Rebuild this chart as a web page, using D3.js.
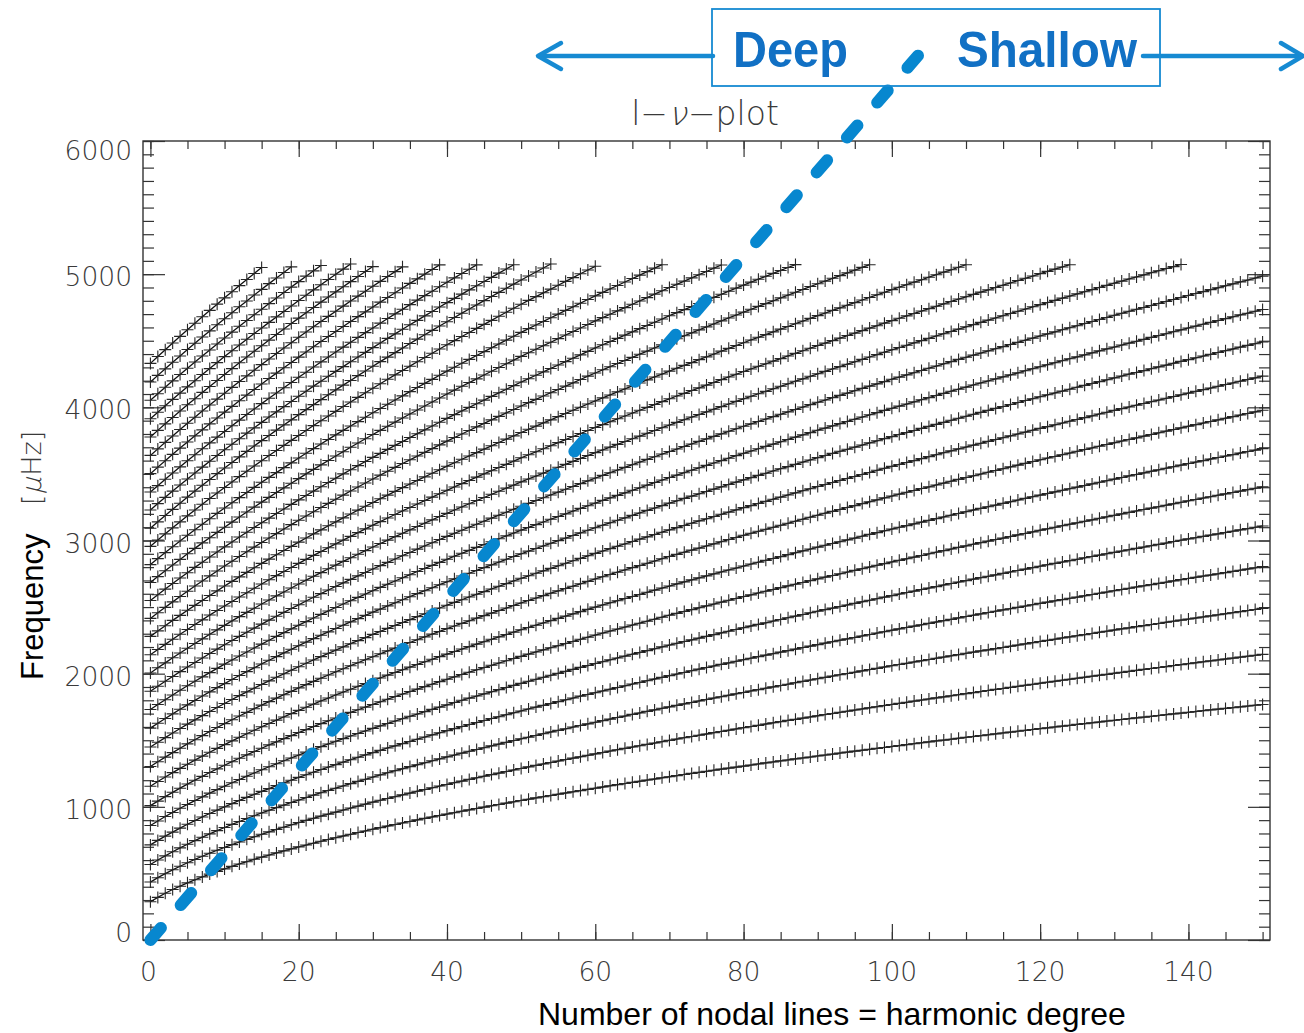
<!DOCTYPE html>
<html>
<head>
<meta charset="utf-8">
<script src="https://cdn.jsdelivr.net/npm/d3@7"></script>
<style>
  html, body { margin: 0; padding: 0; background: #ffffff; }
  svg { display: block; }
</style>
</head>
<body>
<svg id="chart" width="1304" height="1033"></svg>
<script>
// Tick values of the two axes
const degreeTicks = [0, 20, 40, 60, 80, 100, 120, 140];
const degreeMinor = d3.range(0, 151, 5);
const freqTicks = [0, 1000, 2000, 3000, 4000, 5000, 6000];
const freqMinor = d3.range(0, 6001, 100);

// Mode frequencies in μHz, one list per radial order n, indexed by degree l = 0, 1, 2, ...
const ridge01 = [287,320,351,379,404,429,452,474,495,515,534,553,571,588,606,622,638,654,669,684,699,
  713,727,741,755,768,781,794,807,819,832,844,856,867,879,890,902,913,924,935,946,
  956,967,977,988,998,1008,1018,1028,1038,1048,1057,1067,1076,1085,1095,1104,1113,1122,1131,1140,
  1149,1158,1167,1175,1184,1192,1201,1209,1218,1226,1234,1243,1251,1259,1267,1275,1283,1291,1298,1306,
  1314,1322,1330,1337,1345,1352,1360,1367,1374,1382,1389,1396,1404,1411,1418,1425,1432,1439,1446,1453,
  1460,1467,1474,1481,1488,1495,1501,1508,1515,1522,1528,1535,1541,1548,1555,1561,1568,1574,1581,1587,
  1593,1600,1606,1612,1619,1625,1631,1637,1644,1650,1656,1662,1668,1674,1680,1686,1692,1698,1704,1710,
  1716,1722,1728,1734,1739,1745,1751,1757,1763,1768];
const ridge02 = [435,468,498,527,554,580,605,629,652,674,695,
  716,736,756,775,794,812,830,847,865,882,898,914,930,945,960,976,991,1005,1020,1035,
  1049,1063,1076,1090,1103,1117,1130,1143,1156,1168,1181,1193,1206,1218,1230,1242,1253,1265,1277,1288,
  1300,1311,1322,1333,1344,1355,1366,1376,1387,1398,1408,1419,1429,1439,1449,1459,1469,1479,1489,1499,
  1509,1519,1528,1538,1547,1557,1566,1575,1585,1594,1603,1612,1622,1631,1640,1649,1657,1666,1675,1684,
  1693,1701,1710,1718,1727,1735,1744,1752,1761,1769,1777,1785,1794,1802,1810,1818,1826,1834,1842,1850,
  1858,1866,1874,1882,1889,1897,1905,1913,1920,1928,1936,1943,1951,1958,1966,1973,1981,1988,1995,2003,
  2010,2017,2025,2032,2039,2046,2053,2061,2068,2075,2082,2089,2096,2103,2110,2117,2124,2131,2138,2145];
const ridge03 = [567,601,632,663,692,719,746,772,797,821,845,
  868,890,912,933,954,974,994,1013,1033,1051,1070,1088,1106,1123,1140,1157,1174,1191,1207,1224,
  1240,1256,1271,1286,1302,1316,1331,1346,1360,1375,1389,1403,1417,1430,1444,1458,1471,1484,1498,1511,
  1523,1536,1549,1562,1574,1586,1599,1611,1623,1635,1647,1659,1671,1682,1694,1705,1717,1728,1740,1751,
  1762,1773,1784,1795,1806,1817,1827,1838,1849,1859,1870,1880,1891,1901,1911,1921,1932,1942,1952,1962,
  1972,1982,1992,2001,2011,2021,2031,2040,2050,2060,2069,2078,2088,2097,2106,2116,2125,2134,2143,2153,
  2162,2171,2179,2188,2197,2206,2215,2224,2233,2242,2250,2259,2268,2276,2285,2293,2302,2311,2319,2328,
  2336,2344,2353,2361,2369,2377,2386,2394,2402,2410,2418,2426,2434,2442,2450,2458,2466,2474,2482,2490];
const ridge04 = [714,748,780,810,840,869,897,924,950,975,1000,
  1024,1048,1071,1094,1116,1137,1159,1180,1200,1221,1241,1260,1280,1299,1317,1336,1354,1372,1390,1407,
  1424,1442,1458,1475,1491,1508,1524,1540,1556,1572,1587,1603,1618,1633,1648,1663,1677,1692,1706,1720,
  1735,1749,1762,1776,1790,1804,1817,1831,1844,1857,1870,1883,1896,1909,1922,1934,1947,1960,1972,1985,
  1997,2009,2022,2034,2046,2058,2070,2081,2093,2105,2116,2128,2139,2150,2162,2173,2184,2196,2207,2218,
  2229,2240,2251,2261,2272,2283,2294,2305,2315,2326,2336,2347,2357,2367,2378,2388,2398,2408,2419,2429,
  2439,2449,2459,2469,2479,2488,2498,2508,2518,2528,2537,2547,2556,2566,2575,2585,2594,2604,2613,2623,
  2632,2641,2651,2660,2669,2678,2687,2697,2706,2715,2724,2733,2741,2750,2759,2768,2777,2786,2795,2804];
const ridge05 = [860,894,927,958,989,1018,1047,1075,1103,1129,1155,
  1181,1205,1230,1254,1278,1301,1323,1346,1367,1389,1411,1432,1452,1472,1492,1512,1532,1551,1570,1589,
  1608,1626,1644,1662,1680,1697,1715,1732,1749,1766,1783,1800,1816,1832,1848,1864,1880,1896,1912,1927,
  1943,1958,1973,1988,2002,2017,2032,2047,2061,2076,2090,2104,2118,2132,2146,2159,2173,2187,2201,2215,
  2228,2241,2254,2267,2280,2293,2306,2319,2332,2345,2358,2370,2382,2395,2407,2420,2432,2444,2457,2469,
  2481,2492,2504,2516,2528,2540,2551,2563,2575,2586,2598,2609,2620,2632,2643,2654,2666,2677,2688,2699,
  2710,2721,2731,2742,2753,2764,2775,2785,2796,2807,2818,2828,2838,2849,2859,2870,2880,2890,2901,2911,
  2921,2931,2941,2951,2961,2971,2981,2992,3002,3012,3021,3031,3041,3050,3060,3070,3080,3089,3099,3109];
const ridge06 = [1009,1043,1077,1109,1140,1171,1200,1229,1258,1285,1312,
  1339,1365,1390,1415,1440,1465,1488,1512,1535,1558,1580,1603,1625,1646,1667,1688,1709,1729,1749,1769,
  1789,1808,1828,1847,1866,1884,1903,1921,1940,1958,1976,1994,2011,2029,2046,2063,2080,2097,2114,2130,
  2147,2163,2179,2195,2210,2226,2242,2258,2274,2290,2305,2320,2335,2350,2365,2379,2394,2409,2424,2439,
  2453,2467,2481,2495,2509,2523,2537,2551,2565,2579,2592,2606,2619,2632,2646,2659,2672,2685,2699,2712,
  2725,2737,2750,2763,2776,2788,2801,2814,2826,2839,2851,2863,2875,2887,2900,2912,2924,2936,2948,2960,
  2972,2984,2995,3007,3018,3030,3042,3053,3065,3077,3088,3099,3111,3122,3133,3144,3155,3167,3178,3189,
  3200,3211,3222,3233,3243,3254,3265,3276,3287,3298,3308,3319,3329,3340,3350,3361,3371,3382,3392,3403];
const ridge07 = [1155,1190,1224,1257,1289,1320,1351,1381,1410,1439,1467,
  1495,1522,1549,1575,1601,1626,1651,1675,1700,1724,1748,1771,1795,1817,1840,1862,1883,1905,1926,1947,
  1968,1989,2009,2029,2049,2069,2089,2108,2128,2147,2166,2185,2203,2222,2240,2258,2276,2294,2312,2330,
  2347,2364,2381,2398,2415,2432,2449,2466,2483,2500,2516,2532,2548,2564,2579,2595,2611,2627,2643,2658,
  2674,2689,2704,2719,2734,2749,2764,2779,2793,2808,2823,2837,2851,2865,2879,2894,2908,2922,2936,2950,
  2964,2978,2991,3005,3018,3032,3046,3059,3073,3086,3099,3112,3125,3138,3151,3164,3177,3190,3203,3216,
  3229,3241,3254,3266,3279,3291,3304,3316,3329,3341,3353,3365,3377,3389,3401,3413,3425,3437,3449,3461,
  3473,3485,3496,3508,3520,3531,3543,3554,3566,3578,3589,3600,3612,3623,3634,3645,3657,3668,3679,3690];
const ridge08 = [1303,1339,1373,1407,1440,1473,1504,1535,1566,1596,1625,
  1654,1682,1709,1737,1764,1790,1816,1842,1867,1893,1918,1942,1966,1990,2014,2037,2060,2082,2105,2127,
  2149,2171,2192,2213,2234,2255,2276,2297,2317,2338,2358,2378,2397,2417,2436,2455,2474,2493,2512,2531,
  2550,2568,2586,2604,2622,2640,2657,2675,2693,2711,2728,2745,2762,2779,2796,2812,2829,2846,2863,2880,
  2896,2912,2928,2943,2959,2975,2991,3007,3023,3039,3054,3069,3084,3099,3114,3129,3145,3160,3175,3190,
  3205,3219,3233,3248,3262,3277,3291,3305,3320,3334,3348,3362,3376,3390,3403,3417,3431,3445,3459,3473,
  3486,3499,3513,3526,3539,3553,3566,3579,3593,3606,3619,3631,3644,3657,3670,3683,3695,3708,3721,3734,
  3747,3759,3771,3784,3796,3809,3821,3833,3846,3858,3870,3882,3894,3906,3918,3930,3942,3954,3966,3978];
const ridge09 = [1449,1485,1520,1554,1588,1621,1653,1685,1716,1746,1776,
  1806,1835,1863,1891,1919,1946,1973,1999,2026,2052,2078,2103,2128,2153,2177,2201,2225,2248,2271,2295,
  2317,2340,2362,2384,2406,2428,2450,2471,2493,2514,2535,2555,2576,2596,2616,2636,2656,2676,2696,2716,
  2735,2754,2772,2791,2810,2829,2848,2866,2885,2903,2921,2939,2957,2974,2992,3010,3027,3045,3062,3080,
  3097,3113,3130,3147,3163,3180,3197,3213,3230,3247,3262,3278,3294,3310,3326,3342,3358,3374,3389,3405,
  3420,3436,3451,3466,3481,3496,3511,3527,3542,3557,3571,3586,3600,3615,3630,3644,3659,3673,3688,3702,
  3716,3730,3744,3758,3772,3786,3800,3814,3828,3842,3855,3869,3882,3896,3909,3923,3936,3950,3963,3977,
  3990,4003,4016,4029,4042,4055,4068,4081,4094,4107,4120,4133,4145,4158,4171,4183,4196,4209,4221,4234];
const ridge10 = [1591,1628,1663,1698,1733,1766,1799,1832,1863,1895,1925,
  1956,1986,2015,2044,2073,2101,2128,2156,2183,2210,2237,2263,2289,2314,2339,2364,2389,2413,2438,2462,
  2485,2509,2532,2555,2578,2601,2623,2645,2668,2690,2712,2733,2754,2775,2796,2817,2838,2859,2880,2900,
  2920,2940,2959,2979,2999,3018,3038,3057,3077,3096,3115,3133,3152,3170,3189,3207,3226,3244,3262,3281,
  3298,3316,3333,3351,3368,3386,3403,3421,3438,3455,3472,3489,3505,3522,3539,3555,3572,3589,3605,3622,
  3638,3654,3670,3685,3701,3717,3733,3749,3765,3780,3796,3811,3826,3842,3857,3872,3887,3903,3918,3933,
  3948,3962,3977,3992,4006,4021,4036,4051,4065,4080,4094,4108,4122,4136,4151,4165,4179,4193,4207,4221,
  4235,4249,4262,4276,4290,4304,4317,4331,4345,4358,4372,4385,4398,4412,4425,4438,4452,4465,4478,4491];
const ridge11 = [1731,1768,1804,1840,1875,1909,1943,1976,2008,2040,2072,
  2103,2133,2163,2193,2222,2251,2280,2308,2336,2364,2391,2418,2445,2471,2497,2523,2548,2573,2598,2623,
  2648,2672,2696,2720,2743,2767,2790,2813,2836,2859,2882,2904,2926,2948,2970,2991,3013,3035,3056,3078,
  3098,3119,3139,3160,3180,3200,3221,3241,3261,3281,3301,3320,3339,3358,3377,3396,3416,3435,3454,3473,
  3491,3509,3528,3546,3564,3582,3600,3618,3637,3655,3672,3689,3707,3724,3741,3759,3776,3793,3810,3828,
  3844,3861,3878,3894,3911,3927,3944,3960,3977,3993,4009,4025,4041,4057,4073,4089,4105,4121,4136,4152,
  4168,4183,4198,4214,4229,4244,4259,4275,4290,4305,4320,4335,4350,4365,4379,4394,4409,4424,4439,4453,
  4468,4482,4496,4510,4525,4539,4553,4568,4582,4596,4610,4624,4638,4652,4666,4680,4694,4707,4721,4735];
const ridge12 = [1868,1906,1943,1979,2015,2050,2084,2118,2151,2184,2217,
  2249,2280,2311,2342,2372,2402,2431,2460,2489,2517,2546,2574,2601,2628,2655,2682,2708,2734,2760,2786,
  2811,2836,2861,2886,2910,2935,2959,2983,3007,3031,3054,3077,3100,3122,3145,3168,3190,3212,3235,3257,
  3279,3300,3321,3342,3363,3385,3406,3427,3448,3469,3489,3509,3529,3549,3569,3589,3609,3629,3649,3668,
  3687,3706,3725,3744,3763,3782,3801,3820,3839,3858,3876,3894,3912,3930,3948,3966,3984,4002,4020,4038,
  4055,4073,4090,4107,4125,4142,4159,4176,4193,4211,4227,4244,4260,4277,4294,4310,4327,4343,4360,4376,
  4392,4408,4424,4440,4456,4472,4488,4504,4520,4536,4552,4567,4583,4598,4613,4629,4644,4660,4675,4691,
  4706,4721,4736,4750,4765,4780,4795,4810,4825,4840,4855,4869,4884,4898,4913,4927,4942,4956,4971,4985];
const ridge13 = [2005,2044,2081,2119,2155,2191,2227,2261,2296,2329,2363,
  2396,2428,2460,2491,2523,2553,2584,2613,2643,2673,2702,2731,2759,2788,2815,2843,2870,2897,2924,2951,
  2977,3003,3029,3054,3080,3105,3130,3155,3180,3204,3229,3252,3276,3300,3323,3347,3370,3393,3416,3440,
  3462,3484,3506,3528,3550,3572,3594,3616,3638,3660,3680,3701,3722,3743,3764,3784,3805,3826,3847,3867,
  3887,3907,3927,3946,3966,3986,4005,4025,4045,4064,4083,4102,4120,4139,4158,4177,4196,4214,4233,4252,
  4270,4288,4306,4324,4342,4360,4378,4396,4414,4432,4449,4466,4484,4501,4518,4536,4553,4570,4587,4605,
  4621,4638,4655,4671,4688,4705,4721,4738,4755,4771,4787,4803,4820,4836,4852,4868,4884,4900,4916,4932,
  4948,4964,4979,4995,5011,5026,5042,5057,5073];
const ridge14 = [2142,2181,2220,2258,2296,2332,2369,2404,2440,2474,2508,
  2542,2576,2608,2641,2673,2705,2736,2767,2797,2828,2858,2888,2917,2946,2975,3003,3031,3059,3087,3115,
  3142,3169,3195,3222,3248,3274,3300,3326,3351,3377,3402,3427,3451,3476,3500,3524,3548,3572,3596,3621,
  3644,3666,3689,3712,3735,3758,3781,3803,3826,3849,3870,3892,3914,3935,3957,3978,4000,4021,4043,4064,
  4085,4105,4126,4146,4167,4187,4208,4228,4248,4269,4288,4308,4327,4347,4366,4386,4405,4425,4444,4464,
  4482,4501,4520,4539,4557,4576,4595,4613,4632,4651,4669,4687,4705,4723,4741,4759,4777,4795,4813,4830,
  4848,4865,4882,4900,4917,4934,4952,4969,4986,5004,5021,5038,5054,5071];
const ridge15 = [2280,2321,2360,2400,2438,2476,2513,2550,2587,2622,2658,
  2693,2727,2761,2795,2828,2860,2893,2925,2956,2988,3019,3050,3080,3111,3140,3170,3199,3228,3257,3285,
  3314,3341,3369,3397,3424,3451,3478,3505,3531,3558,3584,3610,3635,3660,3686,3711,3736,3761,3786,3811,
  3835,3859,3883,3906,3930,3954,3978,4001,4025,4048,4071,4093,4116,4138,4161,4183,4206,4228,4250,4272,
  4294,4315,4336,4358,4379,4400,4422,4443,4464,4485,4506,4526,4546,4567,4587,4607,4628,4648,4668,4689,
  4708,4728,4747,4767,4786,4806,4825,4845,4864,4884,4902,4921,4940,4958,4977,4996,5015,5033,5052,5071];
const ridge16 = [2415,2457,2498,2539,2579,2619,2658,2696,2734,2771,2808,
  2844,2880,2915,2950,2985,3019,3052,3086,3119,3152,3184,3216,3248,3279,3310,3341,3372,3402,3432,3462,
  3491,3520,3549,3578,3606,3634,3662,3690,3718,3746,3773,3800,3826,3853,3879,3906,3932,3958,3984,4010,
  4035,4060,4085,4110,4134,4159,4184,4209,4234,4258,4282,4305,4329,4352,4375,4399,4422,4446,4469,4493,
  4515,4537,4559,4582,4604,4626,4649,4671,4693,4715,4736,4758,4779,4800,4822,4843,4864,4885,4907,4928,
  4948,4969,4989,5010,5030,5051,5071];
const ridge17 = [2550,2593,2635,2677,2718,2758,2798,2837,2876,2914,2952,
  2989,3026,3062,3098,3133,3168,3203,3237,3271,3305,3338,3371,3404,3436,3468,3500,3531,3562,3593,3624,
  3654,3684,3714,3743,3773,3802,3831,3860,3888,3917,3945,3973,4000,4027,4054,4082,4109,4136,4163,4190,
  4215,4241,4266,4292,4318,4343,4369,4394,4420,4446,4470,4494,4518,4542,4567,4591,4615,4639,4663,4688,
  4711,4734,4757,4780,4803,4826,4849,4872,4895,4918,4940,4962,4984,5006,5028,5050,5072];
const ridge18 = [2685,2729,2773,2816,2858,2900,2941,2982,3021,3061,3100,
  3138,3176,3214,3251,3288,3324,3360,3395,3430,3465,3500,3534,3568,3601,3635,3667,3700,3732,3764,3796,
  3827,3858,3889,3920,3950,3980,4010,4040,4070,4100,4129,4158,4186,4214,4243,4271,4299,4327,4355,4383,
  4410,4436,4463,4489,4516,4543,4569,4596,4622,4649,4674,4699,4724,4749,4774,4799,4824,4850,4875,4900,
  4924,4948,4972,4996,5020,5045,5069];
const ridge19 = [2819,2864,2909,2953,2996,3039,3081,3122,3163,3204,3244,
  3283,3322,3361,3399,3437,3474,3510,3547,3583,3619,3655,3690,3725,3759,3793,3827,3860,3893,3926,3959,
  3991,4023,4055,4086,4118,4149,4180,4210,4241,4272,4301,4331,4360,4389,4418,4447,4476,4505,4534,4563,
  4591,4618,4645,4673,4700,4728,4755,4782,4810,4837,4863,4889,4915,4941,4967,4993,5019,5045,5071];
const ridge20 = [2956,3003,3050,3095,3140,3185,3229,3272,3315,3357,3398,
  3439,3480,3520,3560,3599,3638,3676,3714,3752,3789,3826,3863,3899,3935,3970,4006,4040,4075,4109,4143,
  4177,4211,4244,4277,4309,4342,4374,4406,4438,4470,4501,4532,4562,4593,4623,4653,4684,4714,4744,4774,
  4803,4831,4860,4888,4917,4946,4974,5003,5031,5059];
const ridge21 = [3092,3140,3188,3234,3280,3326,3371,3415,3458,3502,3544,
  3586,3628,3669,3710,3750,3789,3829,3868,3906,3945,3983,4020,4058,4094,4131,4167,4202,4238,4273,4308,
  4343,4377,4411,4445,4479,4512,4545,4578,4611,4643,4675,4707,4738,4769,4801,4832,4863,4894,4925,4956,
  4986,5016,5046,5076];
const ridge22 = [3229,3277,3324,3371,3417,3462,3507,3551,3595,3638,3681,
  3723,3764,3806,3846,3887,3927,3966,4005,4044,4083,4121,4159,4196,4233,4270,4306,4342,4378,4413,4448,
  4483,4518,4552,4586,4620,4653,4687,4720,4753,4786,4818,4850,4882,4913,4945,4976,5008,5039,5071];
const ridge23 = [3364,3412,3460,3507,3553,3599,3644,3689,3733,3776,3819,
  3862,3904,3946,3987,4028,4068,4108,4147,4187,4226,4264,4303,4341,4378,4415,4452,4489,4525,4561,4596,
  4632,4667,4702,4736,4771,4805,4839,4872,4906,4939,4972,5005,5037,5070];
const ridge24 = [3502,3551,3599,3647,3694,3740,3786,3831,3876,3920,3964,
  4007,4050,4092,4134,4175,4216,4257,4297,4337,4377,4416,4455,4494,4532,4570,4607,4644,4681,4717,4754,
  4790,4825,4861,4896,4931,4965,5000,5035,5070];
const ridge25 = [3639,3688,3737,3785,3833,3880,3926,3972,4017,4062,4106,
  4150,4194,4236,4279,4321,4363,4404,4445,4485,4526,4566,4605,4645,4683,4722,4760,4798,4835,4872,4909,
  4946,4982,5019,5055];
const ridge26 = [3777,3827,3876,3924,3972,4019,4065,4112,4157,4202,4247,
  4291,4335,4378,4421,4463,4505,4547,4588,4629,4670,4710,4750,4790,4829,4867,4906,4944,4982,5020,5057];
const ridge27 = [3914,3963,4012,4060,4107,4154,4200,4246,4291,4336,4381,
  4425,4468,4511,4554,4596,4638,4679,4720,4761,4802,4842,4882,4921,4960,4999,5038,5076];
const ridge28 = [4053,4102,4151,4199,4246,4293,4340,4386,4431,4476,4521,
  4565,4609,4652,4695,4737,4779,4821,4862,4903,4944,4985,5025,5065];
const ridge29 = [4190,4240,4289,4338,4386,4434,4481,4528,4574,4620,4665,
  4710,4755,4799,4843,4886,4929,4971,5013,5055];
const ridge30 = [4330,4382,4433,4483,4533,4583,4631,4680,4728,4775,4822,4868,4914,4960,5005,5050];

const ridges = [ridge01, ridge02, ridge03, ridge04, ridge05, ridge06, ridge07, ridge08, ridge09, ridge10,
  ridge11, ridge12, ridge13, ridge14, ridge15, ridge16, ridge17, ridge18, ridge19, ridge20,
  ridge21, ridge22, ridge23, ridge24, ridge25, ridge26, ridge27, ridge28, ridge29, ridge30];

// Dividing line between deep and shallow modes: two ends in (l, μHz)
const dividerDegree = [0, 103.6];
const dividerFreq = [0, 6646];

const svg = d3.select("#chart");
const x = d3.scaleLinear().domain([-1, 151]).range([143, 1270]);
const y = d3.scaleLinear().domain([0, 6000]).range([940, 141]);

const axisColor = "#333";
const labelFont = "'DejaVu Sans', sans-serif";
const sansFont = "'Liberation Sans', Arial, sans-serif";

// Frame and ticks (ticks point inward on all four sides)
const frame = svg.append("g");
frame.append("rect")
  .attr("x", x.range()[0]).attr("y", y.range()[1])
  .attr("width", x.range()[1] - x.range()[0])
  .attr("height", y.range()[0] - y.range()[1])
  .attr("fill", "none").attr("stroke", axisColor).attr("stroke-width", 1.4);

function tickGroup(axis, transform) {
  const g = frame.append("g").attr("transform", transform).call(axis);
  g.select(".domain").remove();
  g.selectAll(".tick line").attr("stroke", axisColor).attr("stroke-width", 1.2);
  g.selectAll("text").remove();
  return g;
}
tickGroup(d3.axisBottom(x).tickValues(degreeMinor).tickSize(-8), `translate(0,${y.range()[0]})`);
tickGroup(d3.axisBottom(x).tickValues(degreeTicks).tickSize(-16), `translate(0,${y.range()[0]})`);
tickGroup(d3.axisTop(x).tickValues(degreeMinor).tickSize(-8), `translate(0,${y.range()[1]})`);
tickGroup(d3.axisTop(x).tickValues(degreeTicks).tickSize(-16), `translate(0,${y.range()[1]})`);
tickGroup(d3.axisLeft(y).tickValues(freqMinor).tickSize(-11), `translate(${x.range()[0]},0)`);
tickGroup(d3.axisLeft(y).tickValues(freqTicks).tickSize(-22), `translate(${x.range()[0]},0)`);
tickGroup(d3.axisRight(y).tickValues(freqMinor).tickSize(-11), `translate(${x.range()[1]},0)`);
tickGroup(d3.axisRight(y).tickValues(freqTicks).tickSize(-22), `translate(${x.range()[1]},0)`);

// Tick labels
svg.append("g").selectAll("text").data(degreeTicks).join("text")
  .attr("x", d => x(d) - (d === 0 ? 2 : 0))
  .attr("y", y.range()[0] + 41)
  .attr("text-anchor", "middle")
  .attr("font-family", labelFont).attr("font-weight", 200)
  .attr("font-size", 26.5).attr("fill", "#3a3a3a")
  .text(d => d);
svg.append("g").selectAll("text").data(freqTicks).join("text")
  .attr("x", 132)
  .attr("y", d => y(d) + (d === 0 ? 2 : d === 6000 ? 19 : 12))
  .attr("text-anchor", "end")
  .attr("font-family", labelFont).attr("font-weight", 200)
  .attr("font-size", 26.5).attr("fill", "#3a3a3a")
  .text(d => d);

// Text made of upright and slanted pieces, laid out left to right inside a group
function pieceText(parent, pieces, size) {
  let cursor = 0;
  pieces.forEach(p => {
    const t = parent.append("text")
      .attr("font-family", labelFont).attr("font-weight", 200)
      .attr("font-size", size).attr("fill", "#3a3a3a")
      .text(p.text);
    const w = t.node().getComputedTextLength();
    t.attr("transform", `translate(${cursor},0)` + (p.slant ? " skewX(-14)" : ""));
    cursor += w + (p.slant ? 1.5 : 0);
  });
  return cursor;
}

// Title
const titleG = svg.append("g");
const titleW = pieceText(titleG, [{ text: "l\u2212" }, { text: "\u03bd", slant: true }, { text: "\u2212plot" }], 33);
titleG.attr("transform", `translate(${705 - titleW / 2},125)`);

// Axis titles
svg.append("text")
  .attr("x", 538).attr("y", 1025)
  .attr("font-family", sansFont)
  .attr("font-size", 32).attr("fill", "#000")
  .text("Number of nodal lines = harmonic degree");
svg.append("text")
  .attr("transform", "translate(43,680) rotate(-90)")
  .attr("font-family", sansFont)
  .attr("font-size", 31).attr("fill", "#000")
  .text("Frequency");
const unitG = svg.append("g").attr("transform", "translate(41,505) rotate(-90)");
pieceText(unitG, [{ text: "[" }, { text: "\u03bc", slant: true }, { text: "Hz]" }], 27);

// Ridges: connecting line plus a "+" at every mode
const plot = svg.append("g");
const line = d3.line().x((d, i) => x(i)).y(d => y(d));
plot.selectAll("path.ridge").data(ridges).join("path")
  .attr("class", "ridge")
  .attr("d", line)
  .attr("fill", "none").attr("stroke", "#111").attr("stroke-width", 1.3);
const marks = ridges.flatMap(r => r.map((nu, l) => ({ l, nu })));
const arm = 6;
plot.selectAll("path.mode").data(marks).join("path")
  .attr("class", "mode")
  .attr("d", d => {
    const px = x(d.l), py = y(d.nu);
    return `M${px - arm},${py}h${2 * arm}M${px},${py - arm}v${2 * arm}`;
  })
  .attr("fill", "none").attr("stroke", "#262626").attr("stroke-width", 1.1);

// Deep / shallow annotation
const blue = "#168ad2";
const textBlue = "#1170c4";
svg.append("line")
  .attr("x1", x(dividerDegree[0])).attr("y1", y(dividerFreq[0]))
  .attr("x2", x(dividerDegree[1])).attr("y2", y(dividerFreq[1]))
  .attr("stroke", "#0787cf").attr("stroke-width", 12)
  .attr("stroke-linecap", "round").attr("stroke-dasharray", "16 30.2");

const note = svg.append("g");
note.append("rect")
  .attr("x", 712).attr("y", 9).attr("width", 448).attr("height", 77)
  .attr("fill", "none").attr("stroke", blue).attr("stroke-width", 1.8);
note.append("line").attr("x1", 713).attr("y1", 56).attr("x2", 540).attr("y2", 56)
  .attr("stroke", blue).attr("stroke-width", 4.5).attr("stroke-linecap", "round");
note.append("polyline").attr("points", "561,43 538,56 561,69")
  .attr("fill", "none").attr("stroke", blue).attr("stroke-width", 4.5)
  .attr("stroke-linecap", "round").attr("stroke-linejoin", "round");
note.append("line").attr("x1", 1143).attr("y1", 56).attr("x2", 1300).attr("y2", 56)
  .attr("stroke", blue).attr("stroke-width", 4.5).attr("stroke-linecap", "round");
note.append("polyline").attr("points", "1281,43 1303,56 1281,69")
  .attr("fill", "none").attr("stroke", blue).attr("stroke-width", 4.5)
  .attr("stroke-linecap", "round").attr("stroke-linejoin", "round");
note.append("text").attr("x", 733).attr("y", 67)
  .attr("font-family", sansFont).attr("font-weight", "bold")
  .attr("font-size", 50).attr("fill", textBlue)
  .attr("textLength", 115).attr("lengthAdjust", "spacingAndGlyphs")
  .text("Deep");
note.append("text").attr("x", 957).attr("y", 67)
  .attr("font-family", sansFont).attr("font-weight", "bold")
  .attr("font-size", 50).attr("fill", textBlue)
  .attr("textLength", 180).attr("lengthAdjust", "spacingAndGlyphs")
  .text("Shallow");
</script>
</body>
</html>
